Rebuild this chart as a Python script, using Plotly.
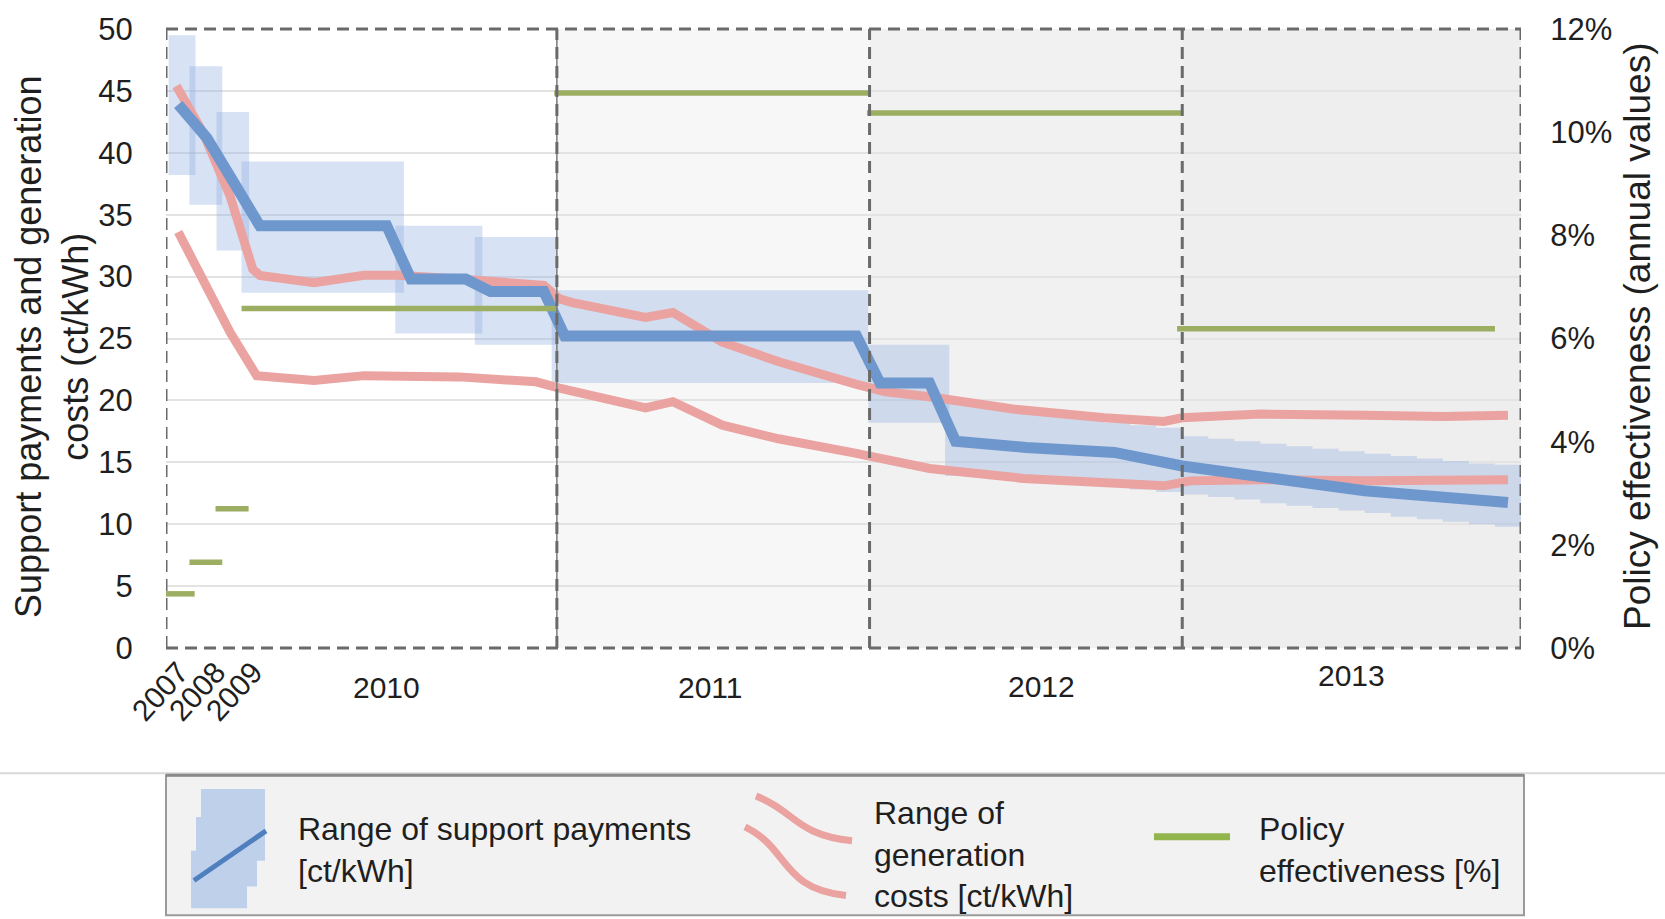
import plotly.graph_objects as go

# ---------------- data ----------------
# x positions are months counted from the left edge of the time axis
# (2007-2009 are squeezed into the first three months, 2010-2013 are 12 months each)

# support payment ranges drawn as boxes (2007 ... early 2012)
band_x0 = [0.1, 0.9, 1.94, 2.9, 8.8, 11.85, 14.8, 26.95]
band_x1 = [1.13, 2.16, 3.19, 9.13, 12.14, 15.0, 26.95, 30.06]
band_lo = [38.2, 35.8, 32.1, 28.7, 25.4, 24.5, 21.4, 18.2]
band_hi = [49.5, 47.0, 43.3, 39.3, 34.1, 33.2, 28.9, 24.5]

# support payment range with monthly degression (mid 2012 ... 2013)
stair_x = [29.9, 31, 32, 33, 34, 35, 36, 37, 38,
           39, 40, 41, 42, 43, 44, 45, 46, 47, 48, 49, 50, 51]
stair_end = 52
stair_hi = [19.7, 19.5, 19.3, 19.1, 18.8, 18.5, 18.2, 18.0, 17.8,
            17.1, 16.9, 16.7, 16.5, 16.3, 16.1, 15.9, 15.7, 15.5, 15.3, 15.1, 14.9, 14.8]
stair_lo = [13.9, 13.8, 13.6, 13.5, 13.4, 13.2, 13.0, 12.8, 12.6,
            12.4, 12.2, 12.0, 11.7, 11.5, 11.3, 11.1, 10.9, 10.6, 10.4, 10.2, 10.0, 9.8]

# typical support payment (ct/kWh)
pay_x = [0.47, 1.57, 2.46, 3.6, 8.47, 9.4, 11.5, 12.45, 14.5, 15.3, 26.5, 27.4,
         29.3, 30.3, 33.0, 36.4, 39.0, 42.5, 46.0, 51.5]
pay_y = [43.9, 41.2, 38.1, 34.1, 34.1, 29.8, 29.8, 28.8, 28.8, 25.2, 25.2, 21.4,
         21.4, 16.7, 16.2, 15.8, 14.7, 13.6, 12.7, 11.75]

# generation costs, upper bound (ct/kWh)
gen_hi_x = [0.4, 1.43, 2.46, 3.33, 3.6, 5.68, 7.6, 8.9, 11.26, 14.5, 15.1, 15.6,
            18.4, 19.45, 21.35, 23.55, 26.5, 27.6, 29.3, 32.5, 36.0, 38.3, 39.0,
            42.0, 46.0, 49.0, 51.5]
gen_hi_y = [45.4, 41.6, 36.5, 30.6, 30.1, 29.5, 30.1, 30.1, 29.8, 29.3, 28.2, 27.9,
            26.7, 27.1, 24.7, 23.1, 21.3, 20.7, 20.3, 19.3, 18.6, 18.3, 18.6,
            18.9, 18.8, 18.7, 18.8]

# generation costs, lower bound (ct/kWh)
gen_lo_x = [0.47, 1.87, 2.46, 3.48, 5.68, 7.6, 11.26, 14.2, 15.1, 18.4, 19.45,
            21.35, 23.5, 26.3, 29.3, 32.9, 38.3, 39.3, 42.0, 46.0, 51.5]
gen_lo_y = [33.6, 27.9, 25.5, 22.0, 21.6, 22.0, 21.9, 21.5, 21.0, 19.4, 19.9,
            18.0, 16.9, 15.8, 14.5, 13.7, 13.1, 13.5, 13.6, 13.5, 13.6]

# annual policy effectiveness (%)
eff_start = [-0.1, 0.9, 1.9, 2.9, 14.9, 26.9, 38.8]
eff_end = [1.1, 2.16, 3.17, 15.0, 27.0, 39.0, 51.0]
eff_val = [1.05, 1.66, 2.70, 6.58, 10.76, 10.37, 6.19]

# year periods
period_bounds = [0, 15, 27, 39, 52]
period_fill = ["#ffffff", "#f7f7f7", "#f1f1f1", "#eeeeee"]

year_labels = ["2010", "2011", "2012", "2013"]
year_label_x = [8.48, 20.9, 33.6, 45.5]
year_label_y = [688, 688, 687, 676]
early_labels = ["2007", "2008", "2009"]
early_label_px = [160, 197, 234]

right_ticks = [0, 2, 4, 6, 8, 10, 12]

# ---------------- styling ----------------
FONT = "Arial, 'Liberation Sans', sans-serif"
TXT = "#1f1f1f"
BLUE = "#6e98cd"
RED = "#eaa3a0"
GREEN = "#9bae62"
BAND = "rgba(143,176,224,0.36)"
FRAME = "#6a6a6a"

W, H = 1665, 919
L, R, T, B = 166, 1521, 25, 648   # plot area in pixels


def px(x):
    return (x - L) / (R - L)


def py(y):
    return (B - y) / (B - T)


fig = go.Figure()

# boxes of the support payment range
for x0, x1, lo, hi in zip(band_x0, band_x1, band_lo, band_hi):
    fig.add_trace(go.Scatter(
        x=[x0, x1, x1, x0, x0], y=[lo, lo, hi, hi, lo],
        mode="lines", fill="toself", fillcolor=BAND,
        line=dict(width=0), hoverinfo="skip", showlegend=False))

# monthly stair band
fig.add_trace(go.Scatter(
    x=stair_x + [stair_end], y=stair_lo + [stair_lo[-1]],
    mode="lines", line=dict(width=0, shape="hv"),
    hoverinfo="skip", showlegend=False))
fig.add_trace(go.Scatter(
    x=stair_x + [stair_end], y=stair_hi + [stair_hi[-1]],
    mode="lines", line=dict(width=0, shape="hv"), fill="tonexty", fillcolor=BAND,
    hoverinfo="skip", showlegend=False))

# generation costs
for gx, gy in ((gen_hi_x, gen_hi_y), (gen_lo_x, gen_lo_y)):
    fig.add_trace(go.Scatter(
        x=gx, y=gy, mode="lines", line=dict(color=RED, width=9),
        hoverinfo="skip", showlegend=False))

# support payments
fig.add_trace(go.Scatter(
    x=pay_x, y=pay_y, mode="lines", line=dict(color=BLUE, width=11),
    hoverinfo="skip", showlegend=False))

# policy effectiveness segments (right axis)
ex, ey = [], []
for s, e, v in zip(eff_start, eff_end, eff_val):
    ex += [s, e, None]
    ey += [v, v, None]
fig.add_trace(go.Scatter(
    x=ex, y=ey, yaxis="y2", mode="lines", line=dict(color=GREEN, width=5.5),
    hoverinfo="skip", showlegend=False))

shapes = []
# period backgrounds
for i, col in enumerate(period_fill):
    shapes.append(dict(type="rect", xref="x", yref="paper",
                       x0=period_bounds[i], x1=period_bounds[i + 1], y0=0, y1=1,
                       fillcolor=col, line=dict(width=0), layer="below"))

dash = "12px,7px"
# frame: top, bottom, left, right, period separators
shapes.append(dict(type="line", xref="x", yref="paper", x0=0, x1=52, y0=1, y1=1,
                   line=dict(color=FRAME, width=3, dash=dash), layer="above"))
shapes.append(dict(type="line", xref="x", yref="paper", x0=0, x1=52, y0=0, y1=0,
                   line=dict(color=FRAME, width=3, dash=dash), layer="above"))
for xb in period_bounds:
    if xb == 15:
        shapes.append(dict(type="line", xref="x", yref="paper", x0=xb, x1=xb, y0=0, y1=1,
                           line=dict(color="#7a7a7a", width=1.5), layer="above"))
    shapes.append(dict(type="line", xref="x", yref="paper", x0=xb, x1=xb, y0=0, y1=1,
                       line=dict(color=FRAME, width=3, dash=dash), layer="above"))

# ---- legend panel ----
shapes.append(dict(type="line", xref="paper", yref="paper",
                   x0=px(0), x1=px(W), y0=py(774), y1=py(774),
                   line=dict(color="#d9d9d9", width=2)))
shapes.append(dict(type="rect", xref="paper", yref="paper",
                   x0=px(166), x1=px(1524), y0=py(917), y1=py(776),
                   fillcolor="#f2f2f2", line=dict(color="#9a9a9a", width=2)))
shapes.append(dict(type="line", xref="paper", yref="paper",
                   x0=px(166), x1=px(1524), y0=py(776), y1=py(776),
                   line=dict(color="#8a8a8a", width=3)))


def path(points, close=False):
    s = "M " + " L ".join(f"{px(x):.5f},{py(y):.5f}" for x, y in points)
    return s + (" Z" if close else "")


def curve(p0, c1, c2, p1):
    return (f"M {px(p0[0]):.5f},{py(p0[1]):.5f} "
            f"C {px(c1[0]):.5f},{py(c1[1]):.5f} {px(c2[0]):.5f},{py(c2[1]):.5f} "
            f"{px(p1[0]):.5f},{py(p1[1]):.5f}")


# support payment swatch: stepped band with a line across it
swatch = [(201, 790), (265, 790), (265, 862), (257, 862), (257, 888), (247, 888),
          (247, 910), (191, 910), (191, 852), (196, 852), (196, 818), (201, 818)]
shapes.append(dict(type="path", xref="paper", yref="paper", path=path(swatch, True),
                   fillcolor="#bfd1ea", line=dict(width=0)))
shapes.append(dict(type="line", xref="paper", yref="paper",
                   x0=px(194), y0=py(882), x1=px(266), y1=py(832),
                   line=dict(color="#4f7fbf", width=5)))
# generation cost swatch: two descending curves
shapes.append(dict(type="path", xref="paper", yref="paper",
                   path=curve((756, 797), (795, 812), (795, 836), (852, 842)),
                   line=dict(color=RED, width=7)))
shapes.append(dict(type="path", xref="paper", yref="paper",
                   path=curve((745, 828), (790, 850), (780, 890), (846, 897)),
                   line=dict(color=RED, width=7)))
# effectiveness swatch
shapes.append(dict(type="line", xref="paper", yref="paper",
                   x0=px(1154), x1=px(1230), y0=py(838), y1=py(838),
                   line=dict(color="#93b54e", width=7)))

annotations = []
for lab, xv, yv in zip(year_labels, year_label_x, year_label_y):
    annotations.append(dict(text=lab, x=xv, y=py(yv), xref="x", yref="paper",
                            showarrow=False, xanchor="center", yanchor="middle",
                            font=dict(family=FONT, size=30, color=TXT)))
for lab, xp in zip(early_labels, early_label_px):
    annotations.append(dict(text=lab, x=px(xp), y=py(692), xref="paper", yref="paper",
                            showarrow=False, xanchor="center", yanchor="middle",
                            textangle=-48, font=dict(family=FONT, size=30, color=TXT)))

# axis titles
annotations.append(dict(text="Support payments and generation<br>costs (ct/kWh)",
                        x=px(52), y=py(345), xref="paper", yref="paper",
                        showarrow=False, textangle=-90, xanchor="center", yanchor="middle",
                        font=dict(family=FONT, size=36, color=TXT)))
annotations.append(dict(text="Policy effectiveness (annual values)",
                        x=px(1637), y=py(334), xref="paper", yref="paper",
                        showarrow=False, textangle=-90, xanchor="center", yanchor="middle",
                        font=dict(family=FONT, size=37, color=TXT)))

# legend texts
legend_font = dict(family=FONT, size=32, color=TXT)
annotations.append(dict(text="Range of support payments<br>[ct/kWh]", x=px(296), y=py(851),
                        xref="paper", yref="paper", showarrow=False, align="left",
                        xanchor="left", yanchor="middle", font=legend_font))
annotations.append(dict(text="Range of<br>generation<br>costs [ct/kWh]", x=px(872), y=py(856),
                        xref="paper", yref="paper", showarrow=False, align="left",
                        xanchor="left", yanchor="middle", font=legend_font))
annotations.append(dict(text="Policy<br>effectiveness [%]", x=px(1257), y=py(851),
                        xref="paper", yref="paper", showarrow=False, align="left",
                        xanchor="left", yanchor="middle", font=legend_font))

fig.update_layout(
    width=W, height=H,
    margin=dict(l=L, r=W - R, t=T, b=H - B, pad=0),
    paper_bgcolor="white", plot_bgcolor="white",
    showlegend=False,
    xaxis=dict(range=[0, 52], showgrid=False, zeroline=False, showticklabels=False,
               ticks="", showline=False, fixedrange=True),
    yaxis=dict(range=[0, 50], tickvals=list(range(0, 51, 5)), showgrid=True,
               gridcolor="#e3e3e3", gridwidth=2, zeroline=False, showline=False,
               ticks="outside", ticklen=26, tickcolor="rgba(0,0,0,0)",
               tickfont=dict(family=FONT, size=31, color=TXT)),
    yaxis2=dict(range=[0, 12], tickmode="array", tickvals=right_ticks,
                ticktext=[f"{v}%" for v in right_ticks],
                overlaying="y", side="right", showgrid=False, zeroline=False,
                showline=False, ticks="outside", ticklen=22, tickcolor="rgba(0,0,0,0)",
                tickfont=dict(family=FONT, size=31, color=TXT)),
    shapes=shapes,
    annotations=annotations,
)

fig.write_html("out.html")
